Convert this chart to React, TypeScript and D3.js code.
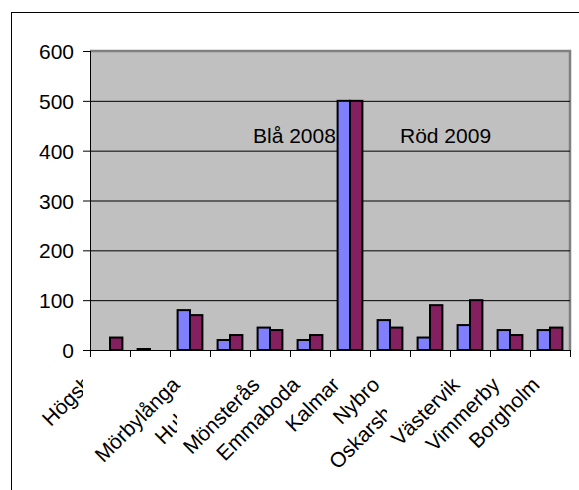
import React from "react";
import { scaleBand, scaleLinear } from "d3";

const categories = [
  "Högsby", "Torsås", "Mörbylånga", "Hultsfred", "Mönsterås", "Emmaboda",
  "Kalmar", "Nybro", "Oskarshamn", "Västervik", "Vimmerby", "Borgholm",
];
const blue2008 = [0, 2, 80, 20, 45, 20, 500, 60, 25, 50, 40, 40];
const red2009 = [25, 0, 70, 30, 40, 30, 500, 45, 90, 100, 30, 45];
const yTicks = [0, 100, 200, 300, 400, 500, 600];

const W = 579;
const H = 490;
const plot = { left: 90, right: 570, top: 51, bottom: 350 };
const font = "'Liberation Sans', Arial, sans-serif";
const fs = 21;

// Excel cut some of the overlapping labels: [max visible x, dx, dy]
const cutLabels: Record<number, [number, number, number]> = {
  0: [83, 0, -9],
  1: [-1, 0, 0],
  3: [177, 2, 0],
  8: [387, 1, 0],
};

const App: React.FC = () => {
  const x = scaleBand<string>().domain(categories).range([plot.left, plot.right]);
  const y = scaleLinear().domain([0, 600]).range([plot.bottom, plot.top]);
  const bw = x.bandwidth() * 0.31;

  return (
    <svg
      width={W}
      height={H}
      style={{ position: "absolute", left: 0, top: 0, background: "#fff" }}
      fontFamily={font}
    >
      <defs>
        {Object.entries(cutLabels).map(([i, [mx]]) => (
          <clipPath key={i} id={`cut${i}`}>
            <rect x={0} y={0} width={Math.max(mx, 0)} height={H} />
          </clipPath>
        ))}
      </defs>
      <rect x={11.5} y={12.5} width={W} height={H} fill="#fff" stroke="#000" />

      {/* plot area */}
      <rect
        x={plot.left}
        y={plot.top}
        width={plot.right - plot.left}
        height={plot.bottom - plot.top}
        fill="#c0c0c0"
      />
      <path
        d={`M${plot.left},${plot.top} H${plot.right} V${plot.bottom}`}
        fill="none"
        stroke="#808080"
        strokeWidth={2.5}
      />

      {yTicks.slice(1, -1).map((t) => (
        <line key={t} x1={plot.left} x2={plot.right} y1={y(t) + 0.5} y2={y(t) + 0.5} stroke="#000" />
      ))}

      {/* bars */}
      {categories.map((c, i) => {
        const cx = (x(c) as number) + x.bandwidth() / 2;
        return (
          <g key={c} stroke="#000" strokeWidth={2}>
            {blue2008[i] > 0 && (
              <rect x={cx - bw} y={y(blue2008[i])} width={bw} height={plot.bottom - y(blue2008[i])} fill="#8080ff" />
            )}
            {red2009[i] > 0 && (
              <rect x={cx} y={y(red2009[i])} width={bw} height={plot.bottom - y(red2009[i])} fill="#852060" />
            )}
          </g>
        );
      })}

      {/* y axis */}
      <line x1={plot.left + 0.5} x2={plot.left + 0.5} y1={plot.top} y2={plot.bottom} stroke="#000" />
      {yTicks.map((t) => (
        <g key={t}>
          <line x1={plot.left - 7} x2={plot.left} y1={y(t) + 0.5} y2={y(t) + 0.5} stroke="#000" />
          <text x={74} y={y(t) + 8} textAnchor="end" fontSize={fs}>
            {t}
          </text>
        </g>
      ))}

      {/* x axis */}
      <line x1={plot.left} x2={plot.right + 1} y1={plot.bottom + 0.5} y2={plot.bottom + 0.5} stroke="#000" />
      {categories.map((c) => (
        <line key={c} x1={(x(c) as number) + 0.5} x2={(x(c) as number) + 0.5} y1={plot.bottom} y2={plot.bottom + 7} stroke="#000" />
      ))}
      <line x1={plot.right + 0.5} x2={plot.right + 0.5} y1={plot.bottom} y2={plot.bottom + 7} stroke="#000" />

      {categories.map((c, i) => {
        let ax = (x(c) as number) + x.bandwidth() / 2 - 9;
        let ay = 386;
        const cut = cutLabels[i];
        if (cut) {
          ax += cut[1];
          ay += cut[2];
        }
        return (
          <g key={c} clipPath={cut ? `url(#cut${i})` : undefined}>
            <text transform={`translate(${ax},${ay}) rotate(-45)`} textAnchor="end" fontSize={fs}>
              {c}
            </text>
          </g>
        );
      })}

      <text x={253} y={143} fontSize={fs}>Blå 2008</text>
      <text x={400} y={143} fontSize={fs}>Röd 2009</text>
    </svg>
  );
};

export default App;
